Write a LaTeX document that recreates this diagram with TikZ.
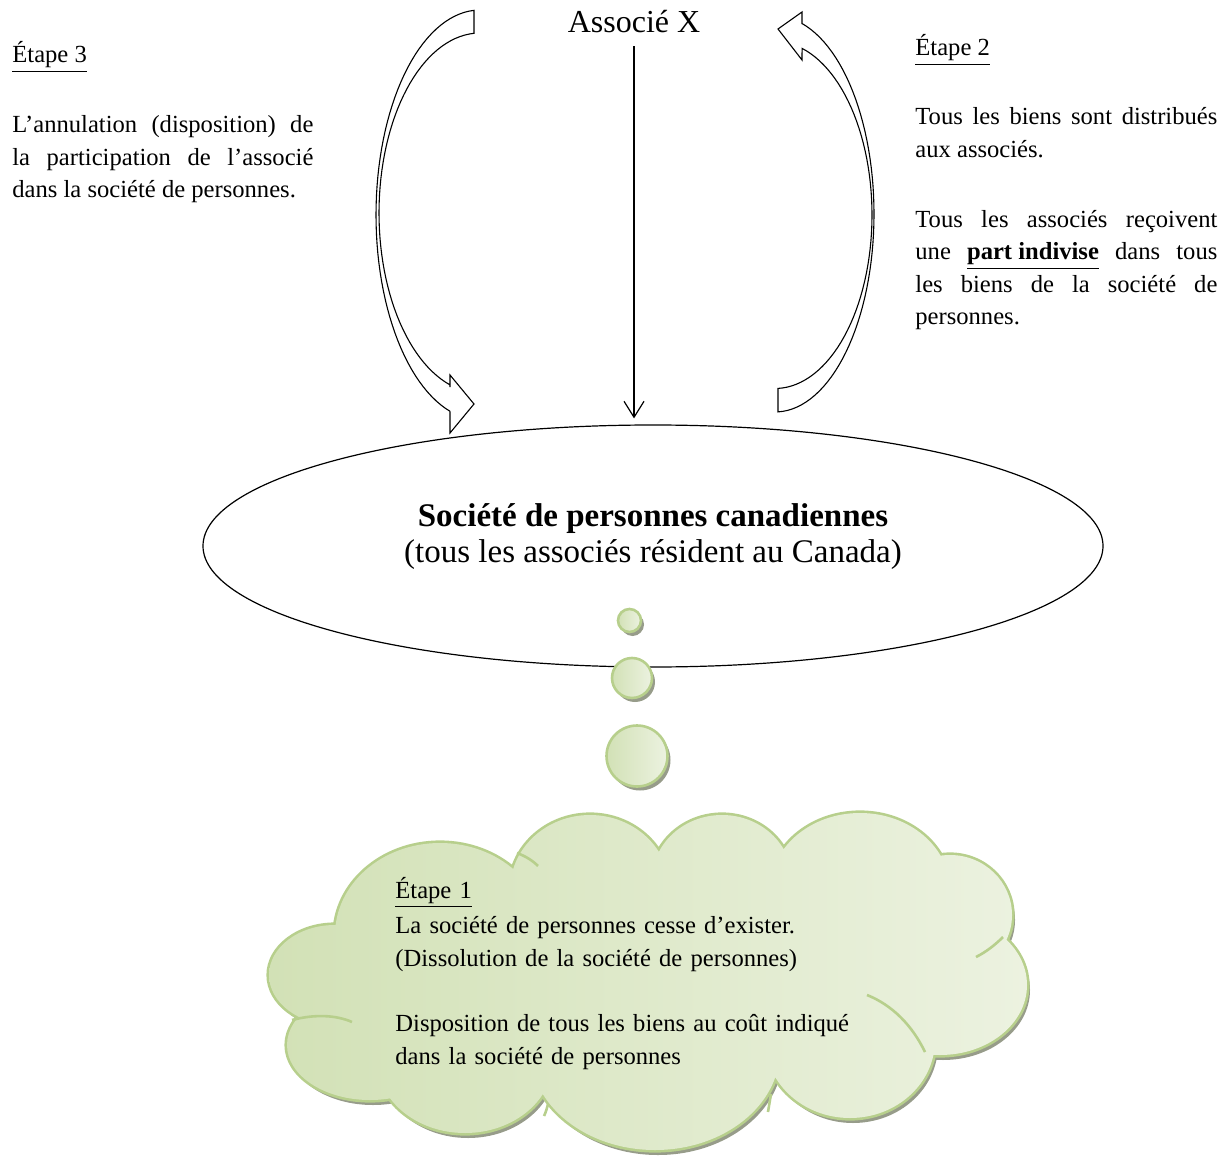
\documentclass[tikz,border=0pt]{standalone}
\usepackage{fontspec}
\setmainfont{Liberation Serif}
\usetikzlibrary{arrows.meta,positioning,shapes.geometric,shadows}
\definecolor{cloudedge}{HTML}{B7CF8C}
\definecolor{cloudlight}{HTML}{ECF2E0}
\definecolor{clouddark}{HTML}{D2E1B6}
\definecolor{shadowgray}{HTML}{979C8A}
\hyphenpenalty=10000
\exhyphenpenalty=10000
\tikzset{
  bodytext/.style={
    font=\fontsize{12.3}{16.25}\selectfont,
    inner sep=0pt,
    text width=150.5pt,
    align=justify,
    anchor=base west
  },
  blockarrow/.style={
    draw=black,
    fill=white,
    line width=0.55pt,
    line join=miter
  },
  thinarrow/.style={
    -{Straight Barb[length=8pt,width=10pt]},
    line width=0.6pt
  },
  bubble/.style={
    circle,
    draw=cloudedge,
    line width=1.3pt,
    inner sep=0pt,
    left color=clouddark,
    right color=cloudlight,
    drop shadow={shadow xshift=1.5pt, shadow yshift=-2pt, fill=shadowgray, opacity=1}
  },
  cusp/.style={
    draw=cloudedge,
    line width=1.3pt
  }
}

\begin{document}
\begin{tikzpicture}[x=0.5pt, y=-0.5pt]
  \useasboundingbox (0,0) rectangle (1220,1160);

  % curved block arrows
  \draw[blockarrow] (474,12)
    -- plot[domain=-266.7:-106.8, samples=60] ({480+104*cos(\x)}, {215-205*sin(\x)})
    -- (450,433) -- (474,404) -- (450,375) -- (450,387)
    -- plot[domain=107.3:266.6, samples=60] ({480+101*cos(\x)}, {213+180*sin(\x)})
    -- cycle;
  \draw[blockarrow] (802,24)
    -- plot[domain=-74.2:88.3, samples=60] ({775+99*cos(\x)}, {214+198*sin(\x)})
    -- (778,388)
    -- plot[domain=-88.2:73.8, samples=60] ({775+97*cos(\x)}, {215-173.5*sin(\x)})
    -- (802,60) -- (778,29) -- (802,12) -- cycle;

  \node[font=\fontsize{16}{19}\selectfont, anchor=base] (associe) at (634,33) {Associé X};

  \node[draw, ellipse, line width=0.6pt, minimum width=450pt, minimum height=121pt,
        inner sep=0pt] (societe) at (653,546) {};
  \node[align=center, inner sep=0pt, font=\fontsize{16.5}{18}\selectfont] (societetext) at (653,537)
    {\textbf{Société de personnes canadiennes}\\(tous les associés résident au Canada)};

  \draw[thinarrow, shorten <=3pt, shorten >=3pt] (associe.south) -- (associe.south |- societe.north);

  % thought bubbles
  \node[bubble, minimum size=11.5pt] (bubbleA) at (629.5,620.5) {};
  \node[bubble, minimum size=20pt] (bubbleB) at (632,678) {};
  \node[bubble, minimum size=30.5pt] (bubbleC) at (637,756) {};

  % cloud
  \shade[drop shadow={shadow xshift=1.5pt, shadow yshift=-2.5pt, fill=shadowgray, opacity=1},
         preaction={draw=cloudedge, line width=2.6pt},
         left color=clouddark, right color=cloudlight]
    foreach \cx/\cy/\rx/\ry in {440/935/105/92, 590/890/80/75, 722/880/70/65, 860/890/90/77,
                                950/915/62/60, 940/985/87/70, 850/1040/85/78, 655/1050/125/100,
                                465/1060/88/73, 370/1045/83/55, 335/975/66/50, 650/970/300/110}
    {(\cx,\cy) ellipse[x radius=\rx*0.5pt, y radius=\ry*0.5pt]};
  \draw[cusp] (292,1020) .. controls (315,1014) and (336,1015) .. (352,1022);
  \draw[cusp] (925,1052) .. controls (912,1025) and (892,1005) .. (867,995);
  \draw[cusp] (1003,937) .. controls (995,945) and (986,952) .. (976,957);
  \draw[cusp] (517,853) .. controls (525,856) and (532,860) .. (538,866);
  \draw[cusp] (771,1094) .. controls (770,1100) and (769,1106) .. (768,1112);
  \draw[cusp] (548,1104) .. controls (547,1108) and (546,1112) .. (544,1116);

  \node[bodytext, text width=250pt, align=left] (etape1) at (395,898)
    {\underline{Étape 1}\\[1.5pt]
     La société de personnes cesse d’exister.\\
     (Dissolution de la société de personnes)\\[16.5pt]
     Disposition de tous les biens au coût indiqué\\
     dans la société de personnes};

  \node[bodytext] (etape3) at (12,63)
    {\underline{Étape 3}\par\vspace{18.75pt}
     L’annulation (disposition) de la participation de l’associé dans la société de personnes.};

  \node[bodytext, text width=151pt] (etape2) at (915,56)
    {\underline{Étape 2}\par\vspace{18.25pt}
     Tous les biens sont distribués aux associés.\par\vspace{18.75pt}
     Tous les associés reçoivent une \underline{\textbf{part indivise}} dans tous les biens de la société de personnes.};
\end{tikzpicture}
\end{document}
